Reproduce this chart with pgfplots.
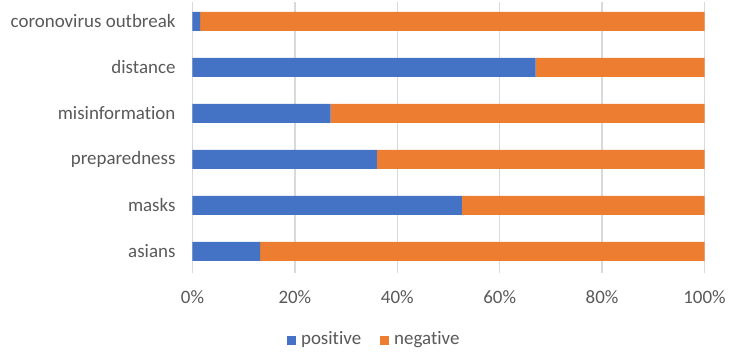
\documentclass[border=0pt]{standalone}
\usepackage{fontspec}
\setmainfont[Ligatures=NoCommon]{Carlito}
\usepackage{pgfplots}
\pgfplotsset{compat=1.18}

\definecolor{posblue}{HTML}{4472C4}
\definecolor{negorange}{HTML}{ED7D31}
\definecolor{gridgrey}{HTML}{D9D9D9}
\definecolor{labelgrey}{HTML}{595959}

\begin{document}
\begin{tikzpicture}
    \begin{axis}[
        xbar stacked,
        scale only axis,
        width=256bp,
        height=135.5bp,
        bar width=9.5bp,
        xmin=0, xmax=100,
        ymin=-0.47, ymax=5.42,
        ytick={0,1,2,3,4,5},
        yticklabels={asians,masks,preparedness,misinformation,distance,coronovirus outbreak},
        xtick={0,20,40,60,80,100},
        xticklabels={0\%,20\%,40\%,60\%,80\%,100\%},
        xmajorgrids=true,
        grid style={gridgrey, line width=0.75bp},
        axis line style={draw=none},
        major tick length=0pt,
        font=\fontsize{9.5}{11.5}\selectfont,
        tick label style={text=labelgrey},
        yticklabel style={xshift=-5bp},
        xticklabel style={yshift=-5.5bp},
        legend columns=2,
        legend style={
            draw=none,
            at={(0.358,-0.247)},
            anchor=center,
            text=labelgrey,
            nodes={inner xsep=2.5bp},
            /tikz/every even column/.append style={column sep=7bp},
        },
        legend image code/.code={
            \fill[#1] (0bp,-2.5bp) rectangle (4.5bp,2bp);
        },
    ]

    \addplot[fill=posblue, draw=none]
      coordinates {
        (13.2,0)
        (52.6,1)
        (36.0,2)
        (27.0,3)
        (67.0,4)
        (1.5,5)
      };
      \addlegendentry{positive}

    \addplot[fill=negorange, draw=none]
      coordinates {
        (86.8,0)
        (47.4,1)
        (64.0,2)
        (73.0,3)
        (33.0,4)
        (98.5,5)
      };
      \addlegendentry{negative}

    \end{axis}
    \path (-96.25bp,-41.5bp) rectangle (273.25bp,136.5bp);
  \end{tikzpicture}
\end{document}
